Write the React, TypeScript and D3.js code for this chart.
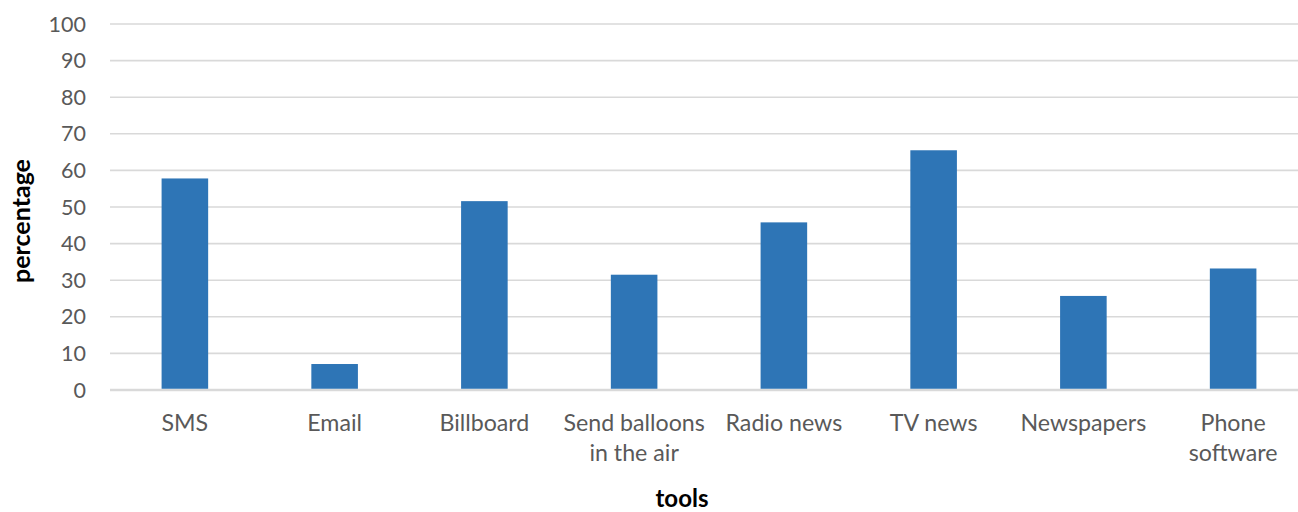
import React from "react";
import * as d3 from "d3";

const categories: string[][] = [
  ["SMS"],
  ["Email"],
  ["Billboard"],
  ["Send balloons", "in the air"],
  ["Radio news"],
  ["TV news"],
  ["Newspapers"],
  ["Phone", "software"],
];
const values: number[] = [57.8, 7.1, 51.6, 31.5, 45.8, 65.5, 25.7, 33.2];
const yTicks: number[] = [0, 10, 20, 30, 40, 50, 60, 70, 80, 90, 100];
const yTitle = "percentage";
const xTitle = "tools";

const W = 1298;
const H = 512;
const FONT = "Lato, 'Open Sans', sans-serif";

export default function App() {
  const x = d3
    .scaleBand<number>()
    .domain(categories.map((_, i) => i))
    .range([110, 1308])
    .padding(0);
  const y = d3.scaleLinear().domain([0, 100]).range([390, 24]);
  const barW = x.bandwidth() * 0.311;

  return (
    <svg
      width={W}
      height={H}
      style={{ position: "absolute", left: 0, top: 0, background: "#fff" }}
    >
      {yTicks.map((t) => (
        <g key={t}>
          <line
            x1={110}
            x2={1308}
            y1={y(t)}
            y2={y(t)}
            stroke="#D9D9D9"
            strokeWidth={t === 0 ? 2.5 : 1.6}
          />
          <text
            x={86}
            y={y(t)}
            dy="0.35em"
            textAnchor="end"
            fontFamily={FONT}
            fontSize={21.5}
            fill="#595959"
          >
            {t}
          </text>
        </g>
      ))}
      {values.map((v, i) => (
        <rect
          key={i}
          x={(x(i) as number) + x.bandwidth() / 2 - barW / 2}
          y={y(v)}
          width={barW}
          height={y(0) - y(v) - 1.25}
          fill="#2E75B6"
        />
      ))}
      {categories.map((lines, i) => (
        <text
          key={i}
          x={(x(i) as number) + x.bandwidth() / 2}
          y={431}
          textAnchor="middle"
          fontFamily={FONT}
          fontSize={23.2}
          fill="#595959"
        >
          {lines.map((l, j) => (
            <tspan key={j} x={(x(i) as number) + x.bandwidth() / 2} dy={j === 0 ? 0 : 30}>
              {l}
            </tspan>
          ))}
        </text>
      ))}
      <text
        transform="translate(30,221) rotate(-90)"
        textAnchor="middle"
        fontFamily={FONT}
        fontSize={25}
        fontWeight="bold"
        fill="#000"
      >
        {yTitle}
      </text>
      <text
        x={682}
        y={507}
        textAnchor="middle"
        fontFamily={FONT}
        fontSize={24}
        fontWeight="bold"
        fill="#000"
      >
        {xTitle}
      </text>
    </svg>
  );
}
